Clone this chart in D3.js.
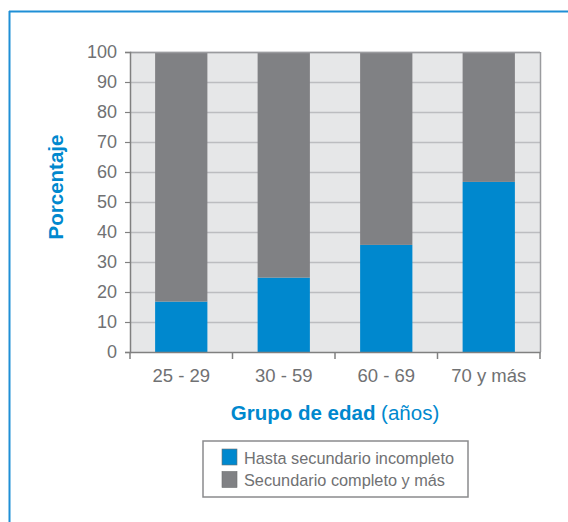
<!DOCTYPE html>
<html><head><meta charset="utf-8">
<script src="https://cdn.jsdelivr.net/npm/d3@7"></script>
<style>html,body{margin:0;padding:0;background:#fff;}svg{display:block;}</style>
</head><body>
<script>
const categories = ["25 - 29", "30 - 59", "60 - 69", "70 y más"];
const hastaSecundario = [16.8, 24.8, 35.7, 56.7];
const secundarioCompleto = [83.2, 75.2, 64.3, 43.3];
const seriesNames = ["Hasta secundario incompleto", "Secundario completo y más"];
const yTicks = [0,10,20,30,40,50,60,70,80,90,100];
const colors = ["#0088ce", "#808184"];

const W = 568, H = 522;
const font = "'Liberation Sans', Arial, sans-serif";
const svg = d3.select("body").append("svg").attr("width", W).attr("height", H);

// frame (left + top)
svg.append("line").attr("x1",9.5).attr("x2",9.5).attr("y1",11).attr("y2",H).attr("stroke","#1f8fd6").attr("stroke-width",2);
svg.append("line").attr("x1",9).attr("x2",W).attr("y1",11.5).attr("y2",11.5).attr("stroke","#1f8fd6").attr("stroke-width",2);

const m = {l:130, r:540, t:52, b:352};
const x = d3.scaleBand().domain(categories).range([m.l, m.r]).paddingInner(0.49).paddingOuter(0.245);
const y = d3.scaleLinear().domain([0,100]).range([m.b, m.t]);

svg.append("rect").attr("x",m.l).attr("y",m.t).attr("width",m.r-m.l).attr("height",m.b-m.t).attr("fill","#e6e7e8");
svg.append("g").selectAll("line").data(yTicks.filter(d=>d>0)).join("line")
  .attr("x1",m.l).attr("x2",m.r).attr("y1",d=>y(d)+0.5).attr("y2",d=>y(d)+0.5)
  .attr("stroke","#bcbdc0").attr("stroke-width",1.5);

const data = categories.map((c,i)=>({c, v:[hastaSecundario[i], secundarioCompleto[i]]}));
const stack = d3.stack().keys([0,1]).value((d,k)=>d.v[k]);
const layers = stack(data);
svg.append("g").selectAll("g").data(layers).join("g").attr("fill",(d,i)=>colors[i])
  .selectAll("rect").data(d=>d).join("rect")
  .attr("x",d=>x(d.data.c)).attr("width",x.bandwidth())
  .attr("y",d=>y(d[1])).attr("height",d=>y(d[0])-y(d[1]));

// plot right border and top
svg.append("line").attr("x1",m.r+0.5).attr("x2",m.r+0.5).attr("y1",m.t).attr("y2",m.b).attr("stroke","#9a9b9e").attr("stroke-width",1.5);
svg.append("line").attr("x1",m.l).attr("x2",m.r).attr("y1",m.t+0.5).attr("y2",m.t+0.5).attr("stroke","#9a9b9e").attr("stroke-width",1.5);

// y axis
const ya = svg.append("g").attr("transform",`translate(${m.l},0)`)
  .call(d3.axisLeft(y).tickValues(yTicks).tickSize(5).tickPadding(8));
ya.select(".domain").attr("stroke","#808080").attr("stroke-width",1.5);
ya.selectAll(".tick line").attr("stroke","#808080").attr("stroke-width",1.2);
ya.selectAll("text").attr("font-family",font).attr("font-size",18).attr("fill","#707173");

// x axis
const xa = svg.append("g").attr("transform",`translate(0,${m.b})`)
  .call(d3.axisBottom(x).tickSize(0).tickPadding(17));
xa.select(".domain").attr("stroke","#808080").attr("stroke-width",1.5);
const xEdges = [m.l].concat(categories.map(c=>x(c)+x.bandwidth()+x.step()*x.paddingInner()/2).slice(0,-1)).concat([m.r]);
svg.append("g").selectAll("line").data(xEdges).join("line")
  .attr("x1",d=>d).attr("x2",d=>d).attr("y1",m.b).attr("y2",m.b+7)
  .attr("stroke","#808080").attr("stroke-width",1.5);
xa.selectAll("text").attr("font-family",font).attr("font-size",18.5).attr("fill","#707173");

// axis titles
svg.append("text").attr("transform",`translate(63,187) rotate(-90)`)
  .attr("text-anchor","middle").attr("font-family",font).attr("font-weight","bold")
  .attr("font-size",20.5).attr("fill","#0088ce").text("Porcentaje");
const xt = svg.append("text").attr("x",335).attr("y",420).attr("text-anchor","middle")
  .attr("font-family",font).attr("font-size",20.5).attr("fill","#0088ce");
xt.append("tspan").attr("font-weight","bold").text("Grupo de edad");
xt.append("tspan").text(" (años)");

// legend
const lg = svg.append("g");
lg.append("rect").attr("x",203).attr("y",441).attr("width",265).attr("height",56)
  .attr("fill","#fff").attr("stroke","#8a8b8d").attr("stroke-width",1.5);
const li = lg.selectAll("g").data(seriesNames).join("g")
  .attr("transform",(d,i)=>`translate(222,${449+i*22.5})`);
li.append("rect").attr("width",15).attr("height",16).attr("fill",(d,i)=>colors[i])
  .attr("stroke","#6d6e71").attr("stroke-width",0.6);
li.append("text").attr("x",22).attr("y",14.5).attr("font-family",font).attr("font-size",16.3)
  .attr("fill","#707173").text(d=>d);
</script>
</body></html>
